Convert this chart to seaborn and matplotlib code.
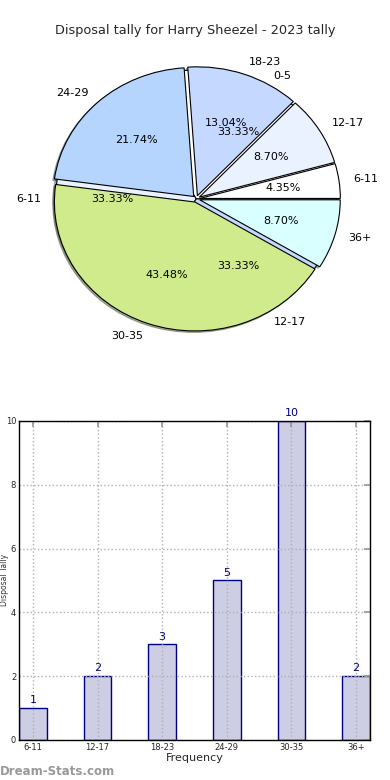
import matplotlib
matplotlib.use("Agg")
import matplotlib.pyplot as plt
import seaborn as sns
import pandas as pd

# ---- data ----
title = "Disposal tally for Harry Sheezel - 2023 tally"
categories = ["6-11", "12-17", "18-23", "24-29", "30-35", "36+"]
counts = [1, 2, 3, 5, 10, 2]
front_colors = ["#ffffff", "#eaf1ff", "#c5d8ff", "#b5d5ff", "#d0eb8c", "#d9ffff"]

back_categories = ["0-5", "6-11", "12-17"]
back_values = [1, 1, 1]
back_colors = ["#ffffff", "#eaf1ff", "#c5d8ff"]

xlabel = "Frequency"
ylabel = "Disposal Tally"
watermark = "Dream-Stats.com"

sns.set_theme(style="white")
plt.rcParams["font.family"] = ["DejaVu Sans"]

fig = plt.figure(figsize=(3.9, 7.8), dpi=100)

# ---- pie ----
axp = fig.add_axes([0.0385, 0.532, 0.929, 0.426])
wp = dict(edgecolor="black", linewidth=0.8)
axp.pie(back_values, labels=back_categories, colors=back_colors,
        autopct="%.2f%%", startangle=0, radius=0.97,
        shadow=dict(ox=-0.012, oy=-0.012, shade=0.6),
        wedgeprops=wp, textprops=dict(fontsize=8, color="black"))
axp.pie(counts, labels=categories, colors=front_colors,
        autopct="%.2f%%", startangle=0, radius=0.97,
        shadow=dict(ox=-0.008, oy=-0.008, shade=0.6),
        wedgeprops=wp, explode=[0.025] * len(counts),
        textprops=dict(fontsize=8, color="black"))
axp.set_aspect("auto")
axp.set_xlim(-1.25, 1.25)
axp.set_ylim(-1.25, 1.25)
axp.axis("off")
fig.text(0.5, 0.961, title, ha="center", va="center", fontsize=9.3)

# ---- bars ----
axb = fig.add_axes([0.0487, 0.0513, 0.9, 0.409])
df = pd.DataFrame({"cat": categories, "count": counts})
sns.barplot(data=df, x="cat", y="count", ax=axb, width=0.43,
            color="#cdcde3", edgecolor="#000080", linewidth=1, saturation=1)
for c in axb.containers:
    axb.bar_label(c, fmt="%d", fontsize=8, color="#000080", padding=2)
axb.set_xlim(-0.215, 5.215)
axb.set_ylim(0, 10)
axb.set_yticks([0, 2, 4, 6, 8, 10])
axb.grid(True, linestyle=":", color="#b0b0b0", linewidth=1)
axb.set_axisbelow(False)
for s in axb.spines.values():
    s.set_color("black")
    s.set_linewidth(1)
    s.set_zorder(10)
axb.tick_params(axis="both", direction="in", length=4, color="#999999",
                top=True, right=True, labelsize=6, pad=2)
axb.set_xlabel(xlabel, fontsize=8, labelpad=1)
axb.set_ylabel("")
fig.text(0.001, 0.256, ylabel, rotation=90, ha="left", va="center",
         fontsize=5.5, color="#333333")
fig.text(0.0, 0.0115, watermark, ha="left", va="center", fontsize=8.5,
         color="#999999", fontweight="bold")

fig.savefig("out.png", dpi=100)
